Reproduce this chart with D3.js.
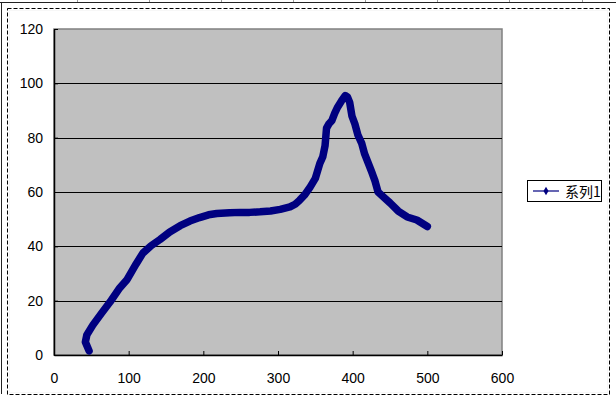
<!DOCTYPE html>
<html>
<head>
<meta charset="utf-8">
<script src="https://cdn.jsdelivr.net/npm/d3@7"></script>
<style>
  html, body { margin: 0; padding: 0; background: #fff; }
  svg { display: block; }
</style>
</head>
<body>
<svg id="chart" width="616" height="401"></svg>
<script>
// ---- data ----
const seriesName = "系列1";
const xValues = [47, 42, 44, 52, 64, 75, 88, 98, 110, 119, 130, 142, 155, 169, 182, 195, 207, 218, 235, 249, 262, 276, 290, 303, 316, 323, 329, 336, 343, 350, 356, 360, 363, 365, 368, 372, 376, 380, 385, 390, 393, 396, 399, 403, 407, 412, 416, 421, 426, 430, 434, 442, 450, 461, 473, 486, 493, 500];
const yValues = [1.5, 4.8, 7.4, 11, 15.5, 19.5, 24.7, 27.8, 33.5, 37.5, 40.2, 42.5, 45.3, 47.6, 49.3, 50.6, 51.6, 52.1, 52.4, 52.5, 52.5, 52.7, 53, 53.6, 54.5, 55.5, 57, 59, 61.8, 65, 70.5, 73, 77, 83.5, 85, 86.2, 89, 91.3, 93.5, 95.5, 95, 93, 88, 85, 81, 78, 74, 70.5, 67, 64, 60, 58, 56, 53, 50.8, 49.7, 48.5, 47.3];
const xTicks = [0, 100, 200, 300, 400, 500, 600];
const yTicks = [0, 20, 40, 60, 80, 100, 120];

const svg = d3.select("#chart");
const W = 616, H = 401;
const plot = { left: 54, right: 502, top: 29, bottom: 355 };

// spreadsheet cell remnants
svg.append("line").attr("x1", 0).attr("x2", W).attr("y1", 2.5).attr("y2", 2.5).attr("stroke", "#222").attr("stroke-width", 1);
svg.append("line").attr("x1", 1.5).attr("x2", 1.5).attr("y1", 2).attr("y2", 394).attr("stroke", "#222").attr("stroke-width", 1);
[77, 149, 221, 293, 365, 437, 509, 582].forEach(x => {
  svg.append("line").attr("x1", x + 0.5).attr("x2", x + 0.5).attr("y1", 0).attr("y2", 2).attr("stroke", "#999");
});

// chart area dashed border
svg.append("rect").attr("x", 7.5).attr("y", 8.5).attr("width", 602).attr("height", 386)
  .attr("fill", "#fff").attr("stroke", "#000").attr("stroke-dasharray", "4,2").attr("stroke-width", 1);
svg.append("rect").attr("x", 9.5).attr("y", 10.5).attr("width", 598).attr("height", 382)
  .attr("fill", "none").attr("stroke", "#eee").attr("stroke-dasharray", "1,1").attr("stroke-width", 1);

const x = d3.scaleLinear().domain([0, 600]).range([plot.left, plot.right]);
const y = d3.scaleLinear().domain([0, 120]).range([plot.bottom, plot.top]);

// plot background
svg.append("rect").attr("x", plot.left).attr("y", plot.top)
  .attr("width", plot.right - plot.left).attr("height", plot.bottom - plot.top)
  .attr("fill", "#C0C0C0").attr("stroke", "#808080").attr("stroke-width", 1.5);

// gridlines
svg.append("g").selectAll("line").data(yTicks.filter(t => t > 0 && t < 120)).join("line")
  .attr("x1", plot.left).attr("x2", plot.right)
  .attr("y1", d => Math.round(y(d)) + 0.5).attr("y2", d => Math.round(y(d)) + 0.5)
  .attr("stroke", "#000").attr("stroke-width", 1);

const font = "'Liberation Sans', Arial, sans-serif";

// x axis
const xAxis = svg.append("g").attr("transform", `translate(0,${plot.bottom})`)
  .call(d3.axisBottom(x).tickValues(xTicks).tickSizeInner(-4).tickSizeOuter(0).tickPadding(18).tickFormat(d3.format("d")));
xAxis.select(".domain").attr("stroke", "#000").attr("stroke-width", 1.5);
xAxis.selectAll(".tick line").attr("stroke", "#000");
xAxis.selectAll("text").attr("font-family", font).attr("font-size", "14px").attr("fill", "#000");

// y axis
const yAxis = svg.append("g").attr("transform", `translate(${plot.left},0)`)
  .call(d3.axisLeft(y).tickValues(yTicks).tickSizeInner(-4).tickSizeOuter(0).tickPadding(11).tickFormat(d3.format("d")));
yAxis.select(".domain").attr("stroke", "#000").attr("stroke-width", 1.5);
yAxis.selectAll(".tick line").attr("stroke", "#000");
yAxis.selectAll("text").attr("font-family", font).attr("font-size", "14px").attr("fill", "#000");

// series
const pts = xValues.map((v, i) => [v, yValues[i]]);
const line = d3.line().x(d => x(d[0])).y(d => y(d[1])).curve(d3.curveLinear);
svg.append("path").datum(pts).attr("d", line)
  .attr("fill", "none").attr("stroke", "#000080").attr("stroke-width", 7.5)
  .attr("stroke-linejoin", "round").attr("stroke-linecap", "round");

// legend
const lg = svg.append("g");
lg.append("rect").attr("x", 527.5).attr("y", 180.5).attr("width", 74).attr("height", 21)
  .attr("fill", "#fff").attr("stroke", "#000").attr("stroke-width", 1);
lg.append("line").attr("x1", 533).attr("x2", 559).attr("y1", 191).attr("y2", 191)
  .attr("stroke", "#000080").attr("stroke-width", 1.2);
lg.append("path").attr("d", d3.symbol().type(d3.symbolDiamond).size(22)())
  .attr("transform", "translate(546,191)").attr("fill", "#000080");
lg.append("text").attr("x", 565).attr("y", 196.5).text(seriesName)
  .attr("font-family", "'Noto Sans CJK SC', sans-serif").attr("font-size", "14px").attr("fill", "#000");
</script>
</body>
</html>
